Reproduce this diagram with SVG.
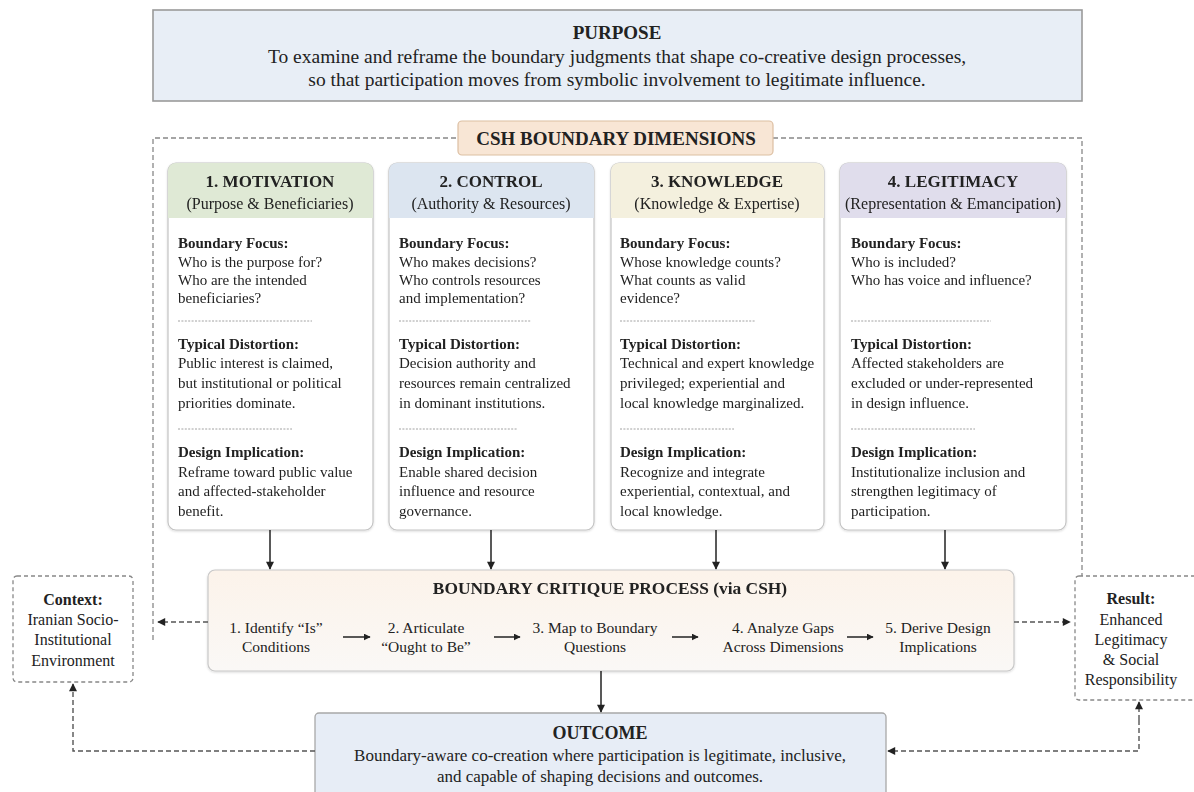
<svg xmlns="http://www.w3.org/2000/svg" width="1194" height="792" viewBox="0 0 1194 792">
<style>
  text { font-family: "Liberation Serif", "Times New Roman", serif; fill: #222; }
  .b { font-weight: bold; }
  .c { text-anchor: middle; }
  .ttl { font-size: 17px; font-weight: bold; text-anchor: middle; }
  .sub { font-size: 16px; text-anchor: middle; }
  .body { font-size: 15px; }
  .step { font-size: 15.5px; text-anchor: middle; }
  .side { font-size: 16px; text-anchor: middle; }
  .card { fill: #ffffff; stroke: #c4c4c4; stroke-width: 1.2; }
  .sep { stroke: #8a8a8a; stroke-width: 0.8; stroke-dasharray: 2 1.4; }
  .solid { stroke: #222; stroke-width: 1.5; fill: none; }
  .dash { stroke: #555; stroke-width: 1.4; fill: none; stroke-dasharray: 5 3; }
  .frame { stroke: #888; stroke-width: 1.3; fill: none; stroke-dasharray: 5 3; }
</style>
<defs>
  <marker id="ah" viewBox="0 0 10 10" refX="9" refY="5" markerWidth="7" markerHeight="7" orient="auto" markerUnits="userSpaceOnUse">
    <path d="M0,0 L10,5 L0,10 z" fill="#222"/>
  </marker>
  <marker id="ahs" viewBox="0 0 10 10" refX="9" refY="5" markerWidth="10" markerHeight="8" orient="auto" markerUnits="userSpaceOnUse">
    <path d="M0,0 L10,5 L0,10 z" fill="#222"/>
  </marker>
  <linearGradient id="procg" x1="0" y1="0" x2="0" y2="1">
    <stop offset="0" stop-color="#fcf3ea"/>
    <stop offset="1" stop-color="#faf8f6"/>
  </linearGradient>
  <filter id="sh" x="-5%" y="-5%" width="110%" height="110%">
    <feDropShadow dx="0" dy="1" stdDeviation="1" flood-color="#000" flood-opacity="0.15"/>
  </filter>
</defs>
<rect width="1194" height="792" fill="#ffffff"/>

<!-- Purpose -->
<g id="purpose">
  <rect x="153" y="10" width="929" height="91" fill="#e8eef6" stroke="#9a9a9a" stroke-width="1.6"/>
  <text x="617" y="39" class="b c" font-size="19">PURPOSE</text>
  <text x="617" y="63" class="c" font-size="19.5">To examine and reframe the boundary judgments that shape co-creative design processes,</text>
  <text x="617" y="86" class="c" font-size="19.5">so that participation moves from symbolic involvement to legitimate influence.</text>
</g>

<!-- Dashed frame -->
<g id="frame">
  <path class="frame" d="M153,640 V138 H458 M773,138 H1082 V576"/>
</g>

<g id="csh-label">
  <rect x="458" y="121" width="315" height="34" rx="4" fill="#f8e6d5" stroke="#dcbfa2" stroke-width="1.2"/>
  <text x="616" y="145" class="b c" font-size="19">CSH BOUNDARY DIMENSIONS</text>
</g>

<!-- Card 1 -->
<g id="card-motivation" filter="url(#sh)">
  <rect class="card" x="168" y="163" width="205" height="367" rx="8"/>
  <path d="M168,218 V171 a8,8 0 0 1 8,-8 H365 a8,8 0 0 1 8,8 V218 z" fill="#dfe9d5"/>
  <text x="270" y="187" class="ttl">1. MOTIVATION</text>
  <text x="270" y="208.5" class="sub">(Purpose &amp; Beneficiaries)</text>
  <text x="178" y="248" class="b body">Boundary Focus:</text>
  <text x="178" y="267" class="body">Who is the purpose for?</text>
  <text x="178" y="285" class="body">Who are the intended</text>
  <text x="178" y="303" class="body">beneficiaries?</text>
  <line class="sep" x1="178" y1="321" x2="312" y2="321"/>
  <text x="178" y="349" class="b body">Typical Distortion:</text>
  <text x="178" y="368" class="body">Public interest is claimed,</text>
  <text x="178" y="388" class="body">but institutional or political</text>
  <text x="178" y="408" class="body">priorities dominate.</text>
  <line class="sep" x1="178" y1="429" x2="292" y2="429"/>
  <text x="178" y="457" class="b body">Design Implication:</text>
  <text x="178" y="477" class="body">Reframe toward public value</text>
  <text x="178" y="496" class="body">and affected-stakeholder</text>
  <text x="178" y="516" class="body">benefit.</text>
</g>

<!-- Card 2 -->
<g id="card-control" filter="url(#sh)">
  <rect class="card" x="389" y="163" width="205" height="367" rx="8"/>
  <path d="M389,218 V171 a8,8 0 0 1 8,-8 H586 a8,8 0 0 1 8,8 V218 z" fill="#dce5f0"/>
  <text x="491" y="187" class="ttl">2. CONTROL</text>
  <text x="491" y="208.5" class="sub">(Authority &amp; Resources)</text>
  <text x="399" y="248" class="b body">Boundary Focus:</text>
  <text x="399" y="267" class="body">Who makes decisions?</text>
  <text x="399" y="285" class="body">Who controls resources</text>
  <text x="399" y="303" class="body">and implementation?</text>
  <line class="sep" x1="399" y1="321" x2="531" y2="321"/>
  <text x="399" y="349" class="b body">Typical Distortion:</text>
  <text x="399" y="368" class="body">Decision authority and</text>
  <text x="399" y="388" class="body">resources remain centralized</text>
  <text x="399" y="408" class="body">in dominant institutions.</text>
  <line class="sep" x1="399" y1="429" x2="517" y2="429"/>
  <text x="399" y="457" class="b body">Design Implication:</text>
  <text x="399" y="477" class="body">Enable shared decision</text>
  <text x="399" y="496" class="body">influence and resource</text>
  <text x="399" y="516" class="body">governance.</text>
</g>

<!-- Card 3 -->
<g id="card-knowledge" filter="url(#sh)">
  <rect class="card" x="611" y="163" width="213" height="367" rx="8"/>
  <path d="M611,218 V171 a8,8 0 0 1 8,-8 H816 a8,8 0 0 1 8,8 V218 z" fill="#f4f0de"/>
  <text x="717" y="187" class="ttl">3. KNOWLEDGE</text>
  <text x="717" y="208.5" class="sub">(Knowledge &amp; Expertise)</text>
  <text x="620" y="248" class="b body">Boundary Focus:</text>
  <text x="620" y="267" class="body">Whose knowledge counts?</text>
  <text x="620" y="285" class="body">What counts as valid</text>
  <text x="620" y="303" class="body">evidence?</text>
  <line class="sep" x1="620" y1="321" x2="756" y2="321"/>
  <text x="620" y="349" class="b body">Typical Distortion:</text>
  <text x="620" y="368" class="body">Technical and expert knowledge</text>
  <text x="620" y="388" class="body">privileged; experiential and</text>
  <text x="620" y="408" class="body">local knowledge marginalized.</text>
  <line class="sep" x1="620" y1="429" x2="734" y2="429"/>
  <text x="620" y="457" class="b body">Design Implication:</text>
  <text x="620" y="477" class="body">Recognize and integrate</text>
  <text x="620" y="496" class="body">experiential, contextual, and</text>
  <text x="620" y="516" class="body">local knowledge.</text>
</g>

<!-- Card 4 -->
<g id="card-legitimacy" filter="url(#sh)">
  <rect class="card" x="840" y="163" width="226" height="367" rx="8"/>
  <path d="M840,218 V171 a8,8 0 0 1 8,-8 H1058 a8,8 0 0 1 8,8 V218 z" fill="#e0ddec"/>
  <text x="953" y="187" class="ttl">4. LEGITIMACY</text>
  <text x="953" y="208.5" class="sub" font-size="15.5">(Representation &amp; Emancipation)</text>
  <text x="851" y="248" class="b body">Boundary Focus:</text>
  <text x="851" y="267" class="body">Who is included?</text>
  <text x="851" y="285" class="body">Who has voice and influence?</text>
  <line class="sep" x1="851" y1="321" x2="991" y2="321"/>
  <text x="851" y="349" class="b body">Typical Distortion:</text>
  <text x="851" y="368" class="body">Affected stakeholders are</text>
  <text x="851" y="388" class="body">excluded or under-represented</text>
  <text x="851" y="408" class="body">in design influence.</text>
  <line class="sep" x1="851" y1="429" x2="975" y2="429"/>
  <text x="851" y="457" class="b body">Design Implication:</text>
  <text x="851" y="477" class="body">Institutionalize inclusion and</text>
  <text x="851" y="496" class="body">strengthen legitimacy of</text>
  <text x="851" y="516" class="body">participation.</text>
</g>

<!-- Process -->
<g id="process" filter="url(#sh)">
  <rect x="208" y="570" width="806" height="101" rx="7" fill="url(#procg)" stroke="#c8c8c8" stroke-width="1.2"/>
  <text x="610" y="594" class="b c" font-size="17.4">BOUNDARY CRITIQUE PROCESS (via CSH)</text>
</g>
<g id="step1">
  <text x="276" y="633" class="step">1. Identify “Is”</text>
  <text x="276" y="652" class="step">Conditions</text>
</g>
<g id="step2">
  <text x="426" y="633" class="step">2. Articulate</text>
  <text x="426" y="652" class="step">“Ought to Be”</text>
</g>
<g id="step3">
  <text x="595" y="633" class="step">3. Map to Boundary</text>
  <text x="595" y="652" class="step">Questions</text>
</g>
<g id="step4">
  <text x="783" y="633" class="step">4. Analyze Gaps</text>
  <text x="783" y="652" class="step">Across Dimensions</text>
</g>
<g id="step5">
  <text x="938" y="633" class="step">5. Derive Design</text>
  <text x="938" y="652" class="step">Implications</text>
</g>

<!-- Context -->
<g id="context">
  <rect x="13" y="576" width="120" height="106" rx="4" fill="#ffffff" stroke="#888" stroke-width="1.3" stroke-dasharray="4 3"/>
  <text x="73" y="605" class="side b">Context:</text>
  <text x="73" y="625" class="side">Iranian Socio-</text>
  <text x="73" y="645" class="side">Institutional</text>
  <text x="73" y="666" class="side">Environment</text>
</g>

<!-- Result -->
<g id="result">
  <rect x="1075" y="576" width="130" height="124" rx="4" fill="#ffffff" stroke="#888" stroke-width="1.3" stroke-dasharray="4 3"/>
  <text x="1131" y="604" class="side b">Result:</text>
  <text x="1131" y="625" class="side">Enhanced</text>
  <text x="1131" y="645" class="side">Legitimacy</text>
  <text x="1131" y="665" class="side">&amp; Social</text>
  <text x="1131" y="685" class="side">Responsibility</text>
</g>

<!-- Outcome -->
<g id="outcome">
  <rect x="315" y="713" width="571" height="90" rx="4" fill="#e7edf6" stroke="#a8a8a8" stroke-width="1.3"/>
  <text x="600" y="739" class="b c" font-size="18">OUTCOME</text>
  <text x="600" y="761" class="c" font-size="17">Boundary-aware co-creation where participation is legitimate, inclusive,</text>
  <text x="600" y="782" class="c" font-size="17">and capable of shaping decisions and outcomes.</text>
</g>

<!-- Connectors -->
<g id="connectors">
  <line class="solid" x1="270" y1="530" x2="270" y2="569" marker-end="url(#ahs)"/>
  <line class="solid" x1="491" y1="530" x2="491" y2="569" marker-end="url(#ahs)"/>
  <line class="solid" x1="716" y1="530" x2="716" y2="569" marker-end="url(#ahs)"/>
  <line class="solid" x1="945" y1="530" x2="945" y2="569" marker-end="url(#ahs)"/>
  <line class="solid" x1="343" y1="637" x2="370" y2="637" marker-end="url(#ah)"/>
  <line class="solid" x1="494" y1="637" x2="520" y2="637" marker-end="url(#ah)"/>
  <line class="solid" x1="672" y1="637" x2="698" y2="637" marker-end="url(#ah)"/>
  <line class="solid" x1="847" y1="637" x2="873" y2="637" marker-end="url(#ah)"/>
  <line class="solid" x1="601" y1="671" x2="601" y2="712" marker-end="url(#ahs)"/>
  <line class="dash" x1="208" y1="622" x2="158" y2="622" marker-end="url(#ahs)"/>
  <line class="dash" x1="1014" y1="622" x2="1070" y2="622" marker-end="url(#ahs)"/>
  <path class="dash" d="M315,751 H73 V684" marker-end="url(#ahs)"/>
  <path class="dash" d="M1139,720 V751 H888" marker-end="url(#ahs)"/>
  <line class="dash" x1="1139" y1="720" x2="1139" y2="702" marker-end="url(#ahs)"/>
</g>
</svg>
